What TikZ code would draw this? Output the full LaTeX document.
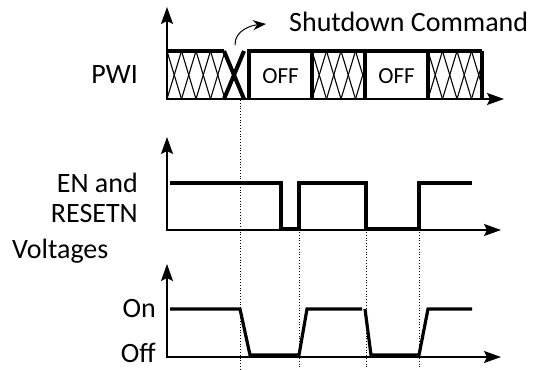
\documentclass[tikz,border=0pt]{standalone}
\usepackage{fontspec}
\setmainfont{Carlito}
\usetikzlibrary{arrows.meta, positioning, calc}

\tikzset{
  axis/.style={line width=2pt, -{Stealth[length=17pt,width=12pt,inset=3pt]}},
  wave/.style={line width=3.2pt, line join=miter},
  busline/.style={line width=3.2pt},
  hatch/.style={line width=1.1pt},
  guide/.style={dotted, line width=0.8pt},
  lbl/.style={font=\fontsize{28}{30}\selectfont, inner sep=0pt},
  offlbl/.style={font=\fontsize{23}{24}\selectfont, inner sep=0pt},
}

\begin{document}
\begin{tikzpicture}[x=1pt,y=-1pt]
  \useasboundingbox (0,0) rectangle (540,369);

  % guides
  \draw[guide] (240,100) -- (240,369);
  \foreach \gx in {299,366,419}
    \draw[guide] (\gx,232) -- (\gx,369);

  % PWI bus
  \foreach \a/\b in {167/225,312/365,428/482} {
    \begin{scope}
      \clip (\a,51) rectangle (\b,99);
      \foreach \k in {0,...,4} {
        \draw[hatch] ({\a+14.5*\k},51) -- ({\a+14.5*\k+14.5},99);
        \draw[hatch] ({\a+14.5*\k},99) -- ({\a+14.5*\k+14.5},51);
      }
    \end{scope}
  }
  \draw[busline] (167,51) -- (224,51);
  \draw[busline, line width=4pt] (224,51) -- (244,99);
  \draw[busline, line width=4pt] (244,51) -- (224,99);
  \draw[busline] (249,99) -- (249,51) -- (482,51);
  \foreach \bx in {312,365,428,482}
    \draw[busline] (\bx,51) -- (\bx,99);
  \draw[axis] (167,99) -- (504,99);
  \draw[axis] (167,100) -- (167,7);

  \node[offlbl, anchor=base] (off1) at (280.5,83) {OFF};
  \node[offlbl, anchor=base] (off2) at (396.5,83) {OFF};
  \node[lbl, anchor=base east] (pwi) at (138,83) {PWI};
  \node[lbl, anchor=base west] (cmd) at (289,32) {Shutdown Command};

  \coordinate (xing) at (235,45);
  \coordinate (cmdtip) at (266,24);
  \draw[line width=1pt, -{Stealth[length=13pt,width=10pt]}] (xing) to[out=92,in=185] (cmdtip);

  % EN and RESETN
  \draw[axis] (167,230) -- (501,230);
  \draw[axis] (167,231) -- (167,137);
  \draw[wave] (170,183) -- (281,183) -- (281,229) -- (299,229) -- (299,183)
    -- (366,183) -- (366,229) -- (419,229) -- (419,183) -- (472,183);
  \node[lbl, anchor=base east, align=right] (en) at (138,222) {EN and\\RESETN};

  % Voltages
  \draw[axis] (167,357) -- (501,357);
  \draw[axis] (167,358) -- (167,264);
  \draw[wave] (170,309) -- (240,309) -- (250,355) -- (299,355) -- (307,309) -- (362,309);
  \draw[wave] (365,309) -- (371,355) -- (419,355) -- (428,309) -- (472,309);
  \node[lbl, anchor=base west] (volt) at (12,258) {Voltages};
  \node[lbl, anchor=base east] (on) at (156,317) {On};
  \node[lbl, anchor=base east] (off) at (156,362) {Off};
\end{tikzpicture}
\end{document}
